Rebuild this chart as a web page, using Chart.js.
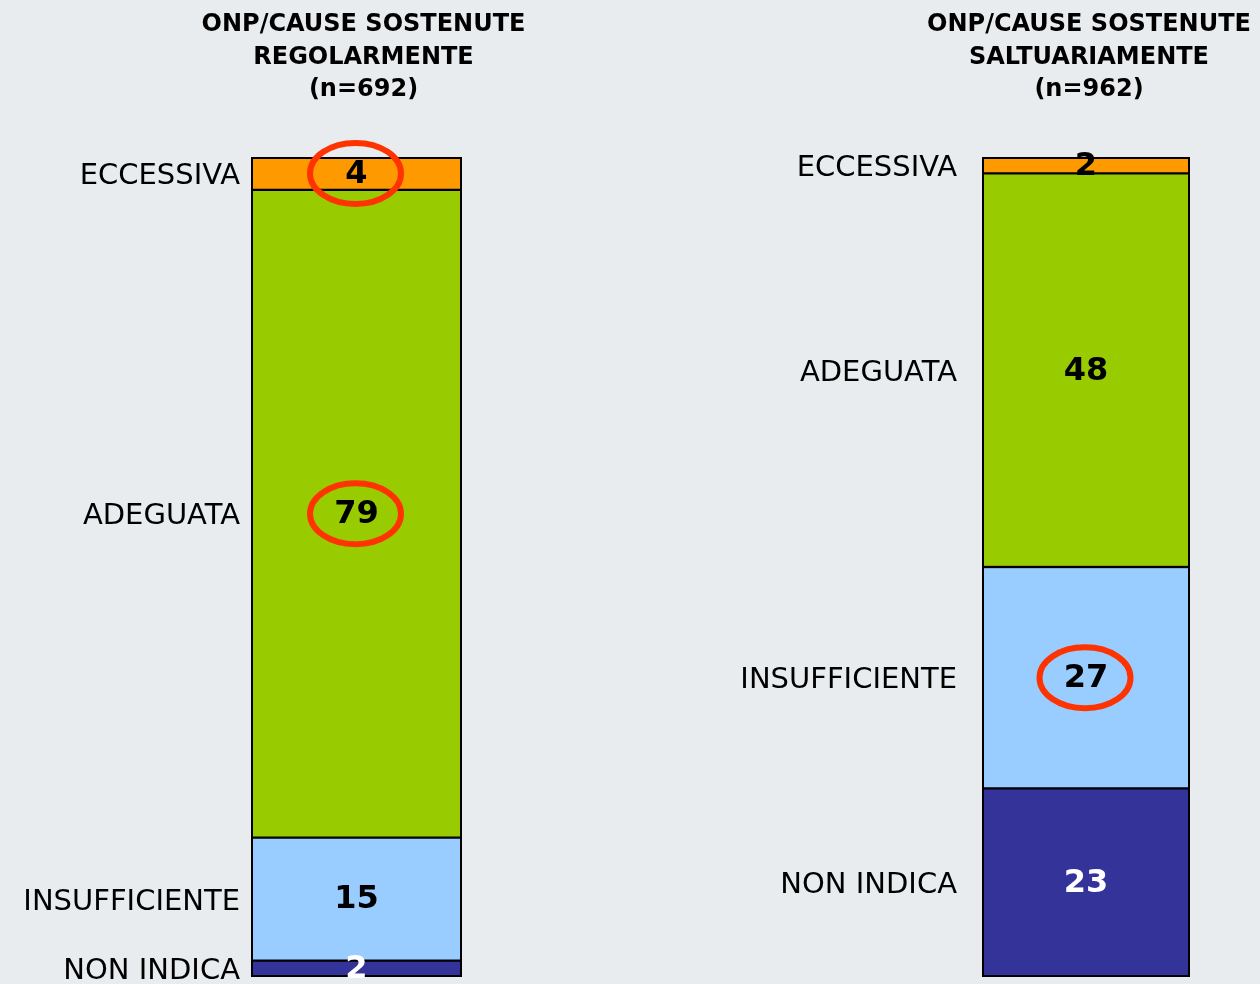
<!DOCTYPE html>
<html>
<head>
<meta charset="utf-8">
<script src="https://cdn.jsdelivr.net/npm/chart.js@4.4.1/dist/chart.umd.min.js"></script>
<style>
  html, body { margin: 0; padding: 0; background: #e8ecee; }
  body { width: 1260px; height: 984px; position: relative; overflow: hidden; }
  .box { position: absolute; top: 0; height: 984px; }
</style>
</head>
<body>
<div class="box" id="b1" style="left:0px;width:630px;"><canvas id="c1"></canvas></div>
<div class="box" id="b2" style="left:630px;width:630px;"><canvas id="c2"></canvas></div>
<script>
// ---- data ----
const categories = ['ECCESSIVA', 'ADEGUATA', 'INSUFFICIENTE', 'NON INDICA'];
const titleRegolarmente = ['ONP/CAUSE SOSTENUTE', 'REGOLARMENTE', '(n=692)'];
const titleSaltuariamente = ['ONP/CAUSE SOSTENUTE', 'SALTUARIAMENTE', '(n=962)'];
const valuesRegolarmente = [4, 79, 15, 2];
const valuesSaltuariamente = [2, 48, 27, 23];
const highlightRegolarmente = ['ECCESSIVA', 'ADEGUATA'];
const highlightSaltuariamente = ['INSUFFICIENTE'];

// ---- styles ----
const segColors = { 'ECCESSIVA': '#ff9900', 'ADEGUATA': '#99cc00', 'INSUFFICIENTE': '#99ccff', 'NON INDICA': '#333399' };
const valColors = { 'ECCESSIVA': '#000000', 'ADEGUATA': '#000000', 'INSUFFICIENTE': '#000000', 'NON INDICA': '#ffffff' };
const FONT = "'DejaVu Sans', Verdana, sans-serif";

function buildDatasets(values) {
  // stack bottom-up: last category at bottom
  const ds = [];
  for (let i = categories.length - 1; i >= 0; i--) {
    ds.push({
      label: categories[i],
      data: [values[i]],
      backgroundColor: segColors[categories[i]],
      borderColor: '#000000',
      borderWidth: 1.5,
      borderSkipped: false,
      barPercentage: 1,
      categoryPercentage: 1
    });
  }
  return ds;
}

const labelPlugin = {
  id: 'segLabels',
  afterDatasetsDraw(chart, args, opts) {
    const ctx = chart.ctx;
    const area = chart.chartArea;
    ctx.save();
    // outer outline of the stacked bar
    const els = chart.data.datasets.map((d, i) => chart.getDatasetMeta(i).data[0]);
    const topY = Math.min(...els.map(e => e.y));
    const baseY = Math.max(...els.map(e => e.base));
    const half = els[0].width / 2;
    ctx.lineWidth = 2;
    ctx.strokeStyle = '#000000';
    ctx.strokeRect(els[0].x - half + 1, topY + 1, half * 2 - 2, baseY - topY - 2);

    chart.data.datasets.forEach((d, i) => {
      const el = els[i];
      const cx = el.x;
      const cy = (el.y + el.base) / 2;
      // category label
      ctx.font = "29px " + FONT;
      ctx.fillStyle = '#000000';
      ctx.textAlign = 'right';
      ctx.textBaseline = 'middle';
      ctx.fillText(d.label, area.left - opts.gap, cy + 3);
      // value label
      ctx.font = "bold 32px " + FONT;
      ctx.textAlign = 'center';
      ctx.fillStyle = valColors[d.label];
      ctx.fillText(String(d.data[0]), cx, cy + 1);
      // highlight ellipse
      if (opts.highlight && opts.highlight.includes(d.label)) {
        ctx.beginPath();
        ctx.ellipse(cx - 1, cy, 45.5, 30.5, 0, 0, Math.PI * 2);
        ctx.lineWidth = 6;
        ctx.strokeStyle = '#ff3300';
        ctx.stroke();
      }
    });
    // title
    ctx.font = "bold 24px " + FONT;
    ctx.fillStyle = '#000000';
    ctx.textAlign = 'center';
    ctx.textBaseline = 'middle';
    const tx = (area.left + area.right) / 2 + opts.titleShift;
    opts.title.forEach((line, k) => ctx.fillText(line, tx, 25 + k * 32.5));
    ctx.restore();
  }
};

function makeChart(id, values, title, highlight, padding, gap, titleShift) {
  return new Chart(document.getElementById(id), {
    type: 'bar',
    data: { labels: [''], datasets: buildDatasets(values) },
    options: {
      responsive: true,
      maintainAspectRatio: false,
      animation: false,
      devicePixelRatio: 1,
      layout: { padding: padding },
      scales: {
        x: { stacked: true, display: false },
        y: { stacked: true, display: false, min: 0, max: 100 }
      },
      plugins: {
        legend: { display: false },
        tooltip: { enabled: false },
        title: { display: false },
        segLabels: { highlight: highlight, title: title, gap: gap, titleShift: titleShift }
      }
    },
    plugins: [labelPlugin]
  });
}

makeChart('c1', valuesRegolarmente, titleRegolarmente, highlightRegolarmente,
  { left: 251, right: 168, top: 157, bottom: 7 }, 11, 7);
makeChart('c2', valuesSaltuariamente, titleSaltuariamente, highlightSaltuariamente,
  { left: 352, right: 70, top: 157, bottom: 7 }, 25, 3);
</script>
</body>
</html>
